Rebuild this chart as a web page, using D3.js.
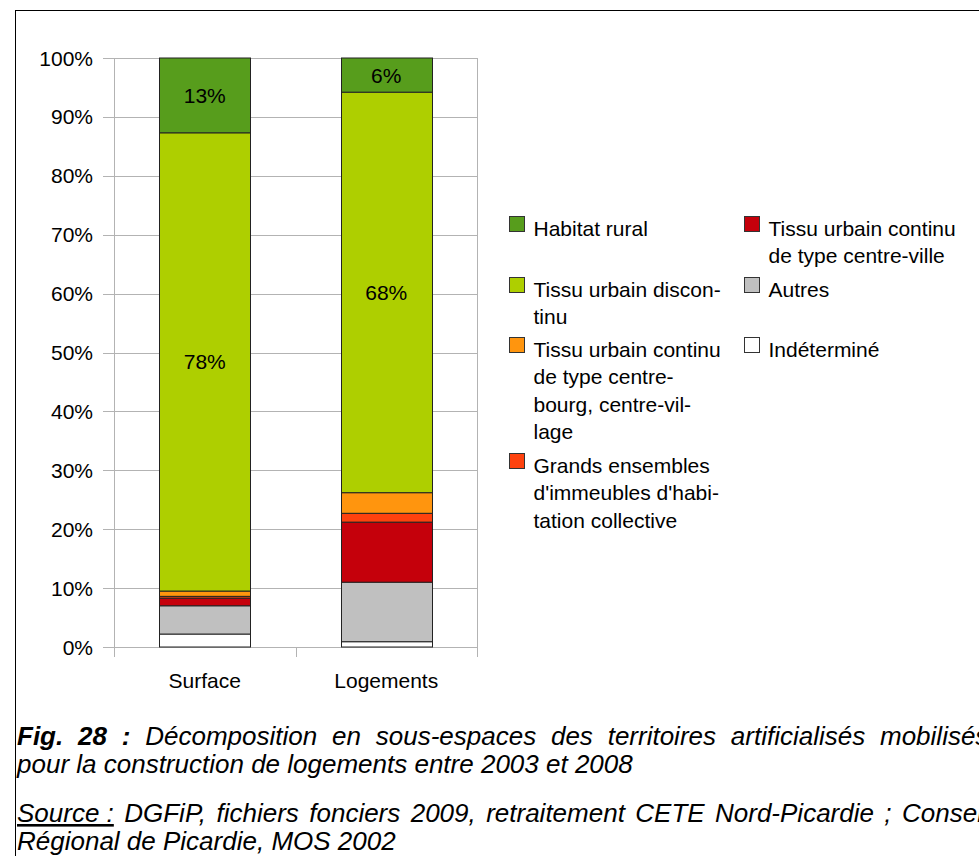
<!DOCTYPE html>
<html><head><meta charset="utf-8">
<script src="https://cdn.jsdelivr.net/npm/d3@7"></script>
<style>
html,body{margin:0;padding:0;background:#fff;overflow:hidden;}
svg{display:block;font-family:"Liberation Sans",Arial,sans-serif;}
</style></head>
<body>
<script>
// ---- data ----
const categories = ["Surface", "Logements"];
const seriesNames = [
  "Indéterminé",
  "Autres",
  "Tissu urbain continu de type centre-ville",
  "Grands ensembles d'immeubles d'habitation collective",
  "Tissu urbain continu de type centre-bourg, centre-village",
  "Tissu urbain discontinu",
  "Habitat rural"
];
const surfaceValues   = [2.2, 4.8, 1.3, 0.3, 0.9, 77.8, 12.7];
const logementsValues = [0.9, 10.1, 10.2, 1.5, 3.5, 68.0, 5.8];
const seriesColors = ["#ffffff", "#c0c0c0", "#c5000b", "#ff420e", "#ff950e", "#aecf00", "#579d1c"];
const labelledSeries = [5, 6];
const segmentLabels = { Surface: {5: "78%", 6: "13%"}, Logements: {5: "68%", 6: "6%"} };
const yTicks = [0, 10, 20, 30, 40, 50, 60, 70, 80, 90, 100];
const legendLines = {
  "Habitat rural": ["Habitat rural"],
  "Tissu urbain continu de type centre-ville": ["Tissu urbain continu", "de type centre-ville"],
  "Tissu urbain discontinu": ["Tissu urbain discon-", "tinu"],
  "Autres": ["Autres"],
  "Tissu urbain continu de type centre-bourg, centre-village": ["Tissu urbain continu", "de type centre-", "bourg, centre-vil-", "lage"],
  "Indéterminé": ["Indéterminé"],
  "Grands ensembles d'immeubles d'habitation collective": ["Grands ensembles", "d'immeubles d'habi-", "tation collective"]
};
const legendColumns = [
  ["Habitat rural", "Tissu urbain discontinu", "Tissu urbain continu de type centre-bourg, centre-village", "Grands ensembles d'immeubles d'habitation collective"],
  ["Tissu urbain continu de type centre-ville", "Autres", "Indéterminé"]
];
// [word, bold, underline]
const captionLine1 = [["Fig.", true], ["28", true], [":", true], ["Décomposition"], ["en"], ["sous-espaces"], ["des"], ["territoires"], ["artificialisés"], ["mobilisés"]];
const captionLine2 = "pour la construction de logements entre 2003 et 2008";
const sourceLine1 = [["Source :", false, true], ["DGFiP,"], ["fichiers"], ["fonciers"], ["2009,"], ["retraitement"], ["CETE"], ["Nord-Picardie"], [";"], ["Conseil"]];
const sourceLine2 = "Régional de Picardie, MOS 2002";

const valuesByCat = { Surface: surfaceValues, Logements: logementsValues };

// ---- layout ----
const W = 979, H = 856;
const svg = d3.select("body").append("svg").attr("width", W).attr("height", H);

// frame
svg.append("line").attr("x1", 15.5).attr("x2", 15.5).attr("y1", 10).attr("y2", H).attr("stroke", "#000").attr("stroke-width", 1);
svg.append("line").attr("x1", 15).attr("x2", W).attr("y1", 10.5).attr("y2", 10.5).attr("stroke", "#000").attr("stroke-width", 1);

const plot = { left: 114, right: 477, top: 58, bottom: 647 };
const x = d3.scaleBand().domain(categories).range([plot.left, plot.right]).padding(0);
const y = d3.scaleLinear().domain([0, 100]).range([plot.bottom, plot.top]);
const grid = "#b3b3b3";
const fs = 21;

const g = svg.append("g");
// horizontal gridlines + tick marks
g.selectAll("line.h").data(yTicks).join("line")
  .attr("x1", plot.left - 11).attr("x2", plot.right)
  .attr("y1", d => Math.round(y(d)) + 0.5).attr("y2", d => Math.round(y(d)) + 0.5)
  .attr("stroke", grid).attr("stroke-width", 1);
// category boundaries: outer ones are full-height lines, inner ones only tick marks
const vx = categories.map(c => x(c)).concat([x(categories[categories.length - 1]) + x.bandwidth()]);
g.selectAll("line.v").data(vx).join("line")
  .attr("x1", d => Math.round(d) + 0.5).attr("x2", d => Math.round(d) + 0.5)
  .attr("y1", (d, i) => (i === 0 || i === vx.length - 1) ? plot.top : plot.bottom)
  .attr("y2", plot.bottom + 10)
  .attr("stroke", grid).attr("stroke-width", 1);

// y labels
g.selectAll("text.yl").data(yTicks).join("text")
  .attr("x", 93).attr("y", d => y(d)).attr("dy", "0.36em")
  .attr("text-anchor", "end").attr("font-size", fs).attr("fill", "#000")
  .text(d => d + "%");

// x labels
g.selectAll("text.xl").data(categories).join("text")
  .attr("x", d => x(d) + x.bandwidth() / 2).attr("y", 688)
  .attr("text-anchor", "middle").attr("font-size", fs).attr("fill", "#000")
  .text(d => d);

// stacked bars
const rows = categories.map(c => {
  const o = { cat: c };
  seriesNames.forEach((s, i) => o[s] = valuesByCat[c][i]);
  return o;
});
const stack = d3.stack().keys(seriesNames)(rows);
const barW = x.bandwidth() * 0.5;
const bars = svg.append("g");
stack.forEach((layer, si) => {
  bars.selectAll(null).data(layer).join("rect")
    .attr("x", d => Math.round(x(d.data.cat) + (x.bandwidth() - barW) / 2) + 0.5)
    .attr("width", Math.round(barW))
    .attr("y", d => y(d[1]))
    .attr("height", d => y(d[0]) - y(d[1]))
    .attr("fill", seriesColors[si])
    .attr("stroke", "#222").attr("stroke-width", 1);
});
// segment labels
stack.forEach((layer, si) => {
  if (!labelledSeries.includes(si)) return;
  bars.selectAll(null).data(layer).join("text")
    .attr("x", d => x(d.data.cat) + x.bandwidth() / 2)
    .attr("y", d => (y(d[0]) + y(d[1])) / 2).attr("dy", "0.36em")
    .attr("text-anchor", "middle").attr("font-size", fs).attr("fill", "#000")
    .text(d => segmentLabels[d.data.cat][si]);
});

// legend
const colorOf = s => seriesColors[seriesNames.indexOf(s)];
const legColX = [509, 744];
const lineH = 27.5;
const rowCount = Math.max(...legendColumns.map(c => c.length));
const rowTops = [216];
for (let r = 0; r < rowCount - 1; r++) {
  const n = Math.max(...legendColumns.map(c => c[r] ? legendLines[c[r]].length : 0));
  rowTops.push(rowTops[r] + n * lineH + 5.5);
}
const leg = svg.append("g");
legendColumns.forEach((col, ci) => {
  col.forEach((s, ri) => {
    const top = Math.round(rowTops[ri]);
    leg.append("rect").attr("x", legColX[ci] + 0.5).attr("y", top + 0.5)
      .attr("width", 15).attr("height", 15)
      .attr("fill", colorOf(s)).attr("stroke", "#333").attr("stroke-width", 1);
    const t = leg.append("text").attr("font-size", fs).attr("fill", "#000");
    legendLines[s].forEach((ln, li) => {
      t.append("tspan").attr("x", legColX[ci] + 24.5).attr("y", top + 19.5 + li * lineH).text(ln);
    });
  });
});

// caption
const cfs = 26;
const cap = svg.append("g").attr("font-size", cfs).attr("font-style", "italic").attr("fill", "#000");
function justifiedLine(words, baseline, x0, lastStart) {
  const nodes = words.map(([w, b, u]) => {
    const n = cap.append("text").attr("y", baseline).attr("font-weight", b ? "bold" : "normal").text(w);
    if (u) n.attr("text-decoration", "underline");
    return n;
  });
  const widths = nodes.map(n => n.node().getComputedTextLength());
  const gap = (lastStart - x0 - d3.sum(widths.slice(0, -1))) / (nodes.length - 1);
  let cx = x0;
  nodes.forEach((n, i) => { n.attr("x", cx); cx += widths[i] + gap; });
}
justifiedLine(captionLine1, 745, 17, 880);
cap.append("text").attr("x", 17).attr("y", 773).text(captionLine2);
justifiedLine(sourceLine1, 822, 17, 902);
cap.append("text").attr("x", 17).attr("y", 850).text(sourceLine2);
</script>
</body></html>
